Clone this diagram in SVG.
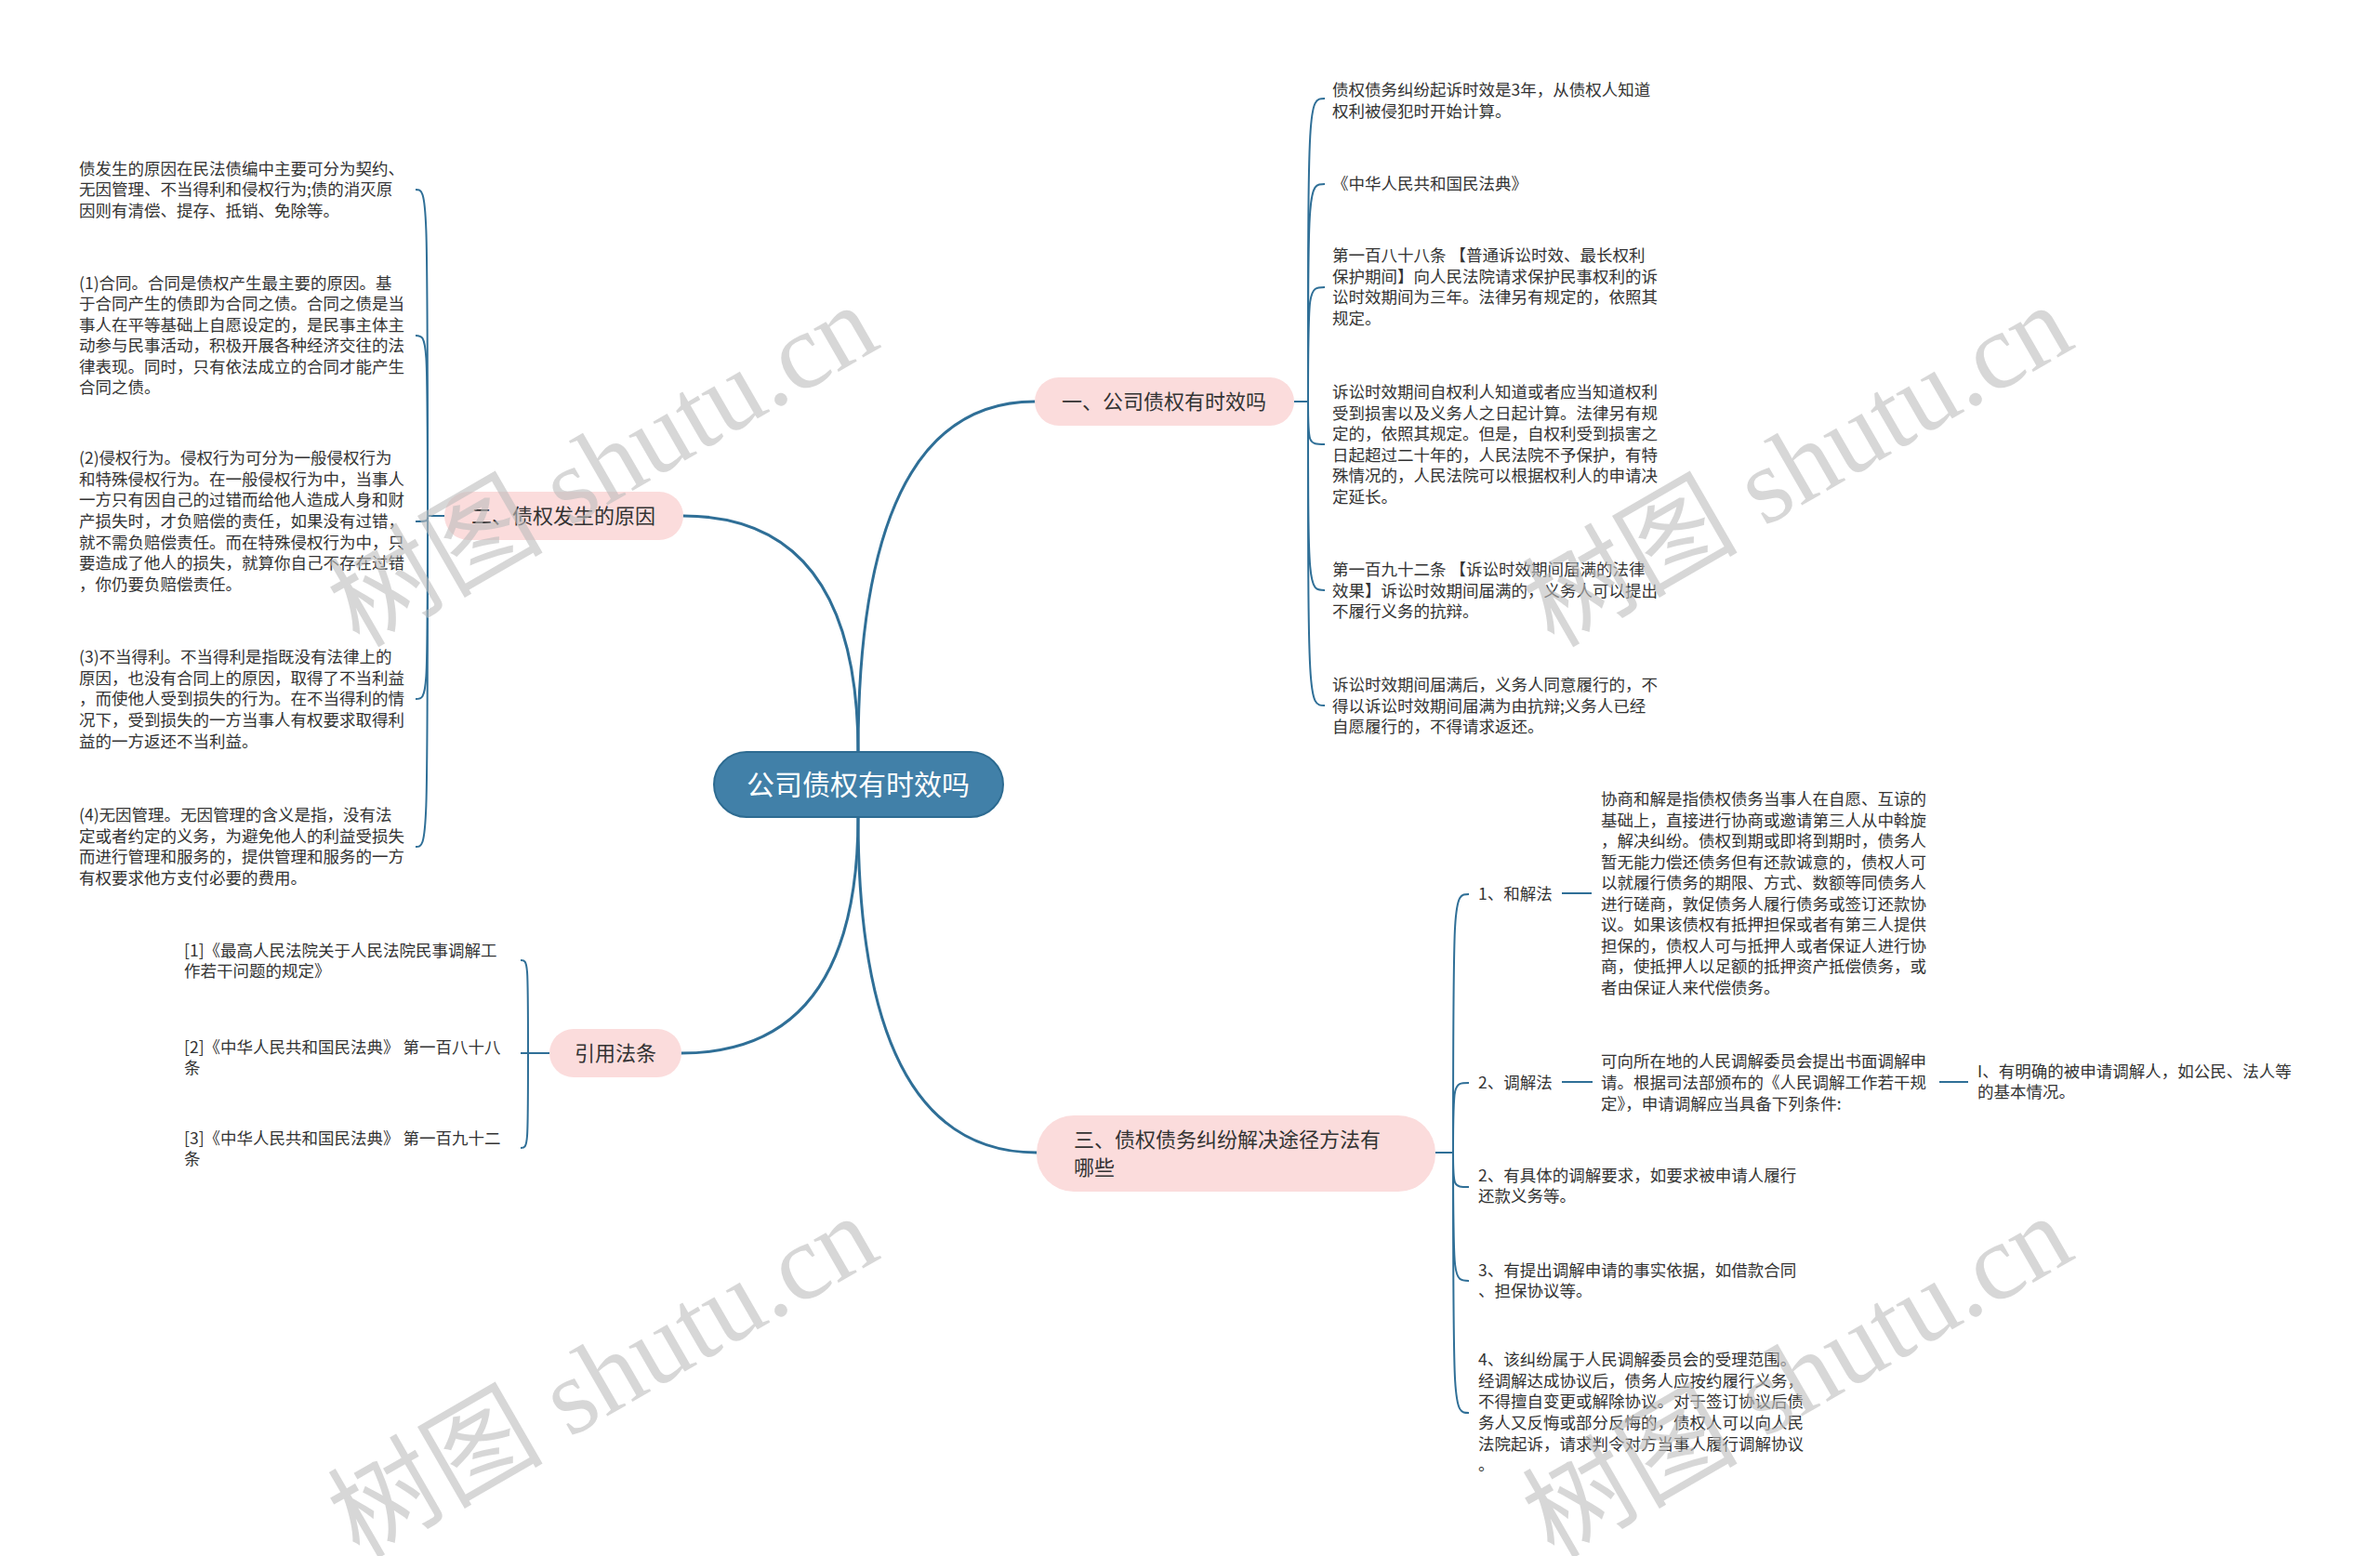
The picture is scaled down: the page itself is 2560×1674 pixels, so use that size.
<svg xmlns="http://www.w3.org/2000/svg" width="2560" height="1674" viewBox="0 0 2560 1674">
<style>
text{font-family:'Noto Sans CJK SC','Microsoft YaHei',sans-serif}
.leaf{font-size:17.5px;fill:#333}
.lbl{font-size:22px;fill:#333}
.pink{fill:#fbdcdc}
.main{fill:none;stroke:#2f6f97;stroke-width:3;stroke-linecap:round}
.br{fill:none;stroke:#2f6f97;stroke-width:2}
.wm{font-family:'Liberation Serif','Noto Sans CJK SC',serif;font-size:116px;fill:#bdbdbd;fill-opacity:0.6}
</style>
<rect x="0" y="0" width="2560" height="1674" fill="#ffffff"/>
<g id="connectors">
<path class="main" d="M923 809 Q923 432 1113 432"/>
<path class="main" d="M923 809 Q923 555 735 555"/>
<path class="main" d="M923 879 Q923 1133 733 1133"/>
<path class="main" d="M923 879 Q923 1240 1115 1240"/>
<path class="br" d="M478 555 H460"/>
<path class="br" d="M460 555 C460 204 460 204 447 204"/>
<path class="br" d="M460 555 C460 361 460 361 447 361"/>
<path class="br" d="M460 555 C460 561 460 561 447 561"/>
<path class="br" d="M460 555 C460 752 460 752 447 752"/>
<path class="br" d="M460 555 C460 911 460 911 447 911"/>
<path class="br" d="M1392 432 H1407"/>
<path class="br" d="M1407 432 C1407 106 1407 106 1425 106"/>
<path class="br" d="M1407 432 C1407 198 1407 198 1425 198"/>
<path class="br" d="M1407 432 C1407 309 1407 309 1425 309"/>
<path class="br" d="M1407 432 C1407 478 1407 478 1425 478"/>
<path class="br" d="M1407 432 C1407 635 1407 635 1425 635"/>
<path class="br" d="M1407 432 C1407 759 1407 759 1425 759"/>
<path class="br" d="M591 1133 H568"/>
<path class="br" d="M568 1133 C568 1033 568 1033 560 1033"/>
<path class="br" d="M568 1133 H560"/>
<path class="br" d="M568 1133 C568 1235 568 1235 560 1235"/>
<path class="br" d="M1543 1240 H1563"/>
<path class="br" d="M1563 1240 C1563 962 1563 962 1580 962"/>
<path class="br" d="M1563 1240 C1563 1165 1563 1165 1580 1165"/>
<path class="br" d="M1563 1240 C1563 1277 1563 1277 1580 1277"/>
<path class="br" d="M1563 1240 C1563 1378 1563 1378 1580 1378"/>
<path class="br" d="M1563 1240 C1563 1520 1563 1520 1580 1520"/>
<path class="br" d="M1680 961 H1712"/>
<path class="br" d="M1680 1164 H1713"/>
<path class="br" d="M2086 1164 H2117"/>
</g>
<g id="root">
<rect x="768" y="809" width="311" height="70" rx="35" fill="#4180a8" stroke="#2d6b91" stroke-width="2"/>
<text x="923" y="855" text-anchor="middle" font-size="30" fill="#ffffff">公司债权有时效吗</text>
</g>
<g id="n1">
<rect class="pink" x="1113" y="406" width="279" height="52" rx="26"/>
<text class="lbl" x="1252" y="440" text-anchor="middle">一、公司债权有时效吗</text>
</g>
<g id="n2">
<rect class="pink" x="478" y="529" width="257" height="52" rx="26"/>
<text class="lbl" x="606" y="563" text-anchor="middle">二、债权发生的原因</text>
</g>
<g id="n3">
<rect class="pink" x="591" y="1107" width="142" height="52" rx="26"/>
<text class="lbl" x="662" y="1141" text-anchor="middle">引用法条</text>
</g>
<g id="n4">
<rect class="pink" x="1115" y="1200" width="429" height="82" rx="40"/>
<text class="lbl"><tspan x="1155" y="1234">三、债权债务纠纷解决途径方法有</tspan><tspan x="1155" y="1264">哪些</tspan></text>
</g>
<g id="a1"><text class="leaf"><tspan x="85" y="188">债发生的原因在民法债编中主要可分为契约、</tspan><tspan x="85" y="210">无因管理、不当得利和侵权行为;债的消灭原</tspan><tspan x="85" y="233">因则有清偿、提存、抵销、免除等。</tspan></text></g>
<g id="a2"><text class="leaf"><tspan x="85" y="311">(1)合同。合同是债权产生最主要的原因。基</tspan><tspan x="85" y="333">于合同产生的债即为合同之债。合同之债是当</tspan><tspan x="85" y="356">事人在平等基础上自愿设定的，是民事主体主</tspan><tspan x="85" y="378">动参与民事活动，积极开展各种经济交往的法</tspan><tspan x="85" y="401">律表现。同时，只有依法成立的合同才能产生</tspan><tspan x="85" y="423">合同之债。</tspan></text></g>
<g id="a3"><text class="leaf"><tspan x="85" y="499">(2)侵权行为。侵权行为可分为一般侵权行为</tspan><tspan x="85" y="522">和特殊侵权行为。在一般侵权行为中，当事人</tspan><tspan x="85" y="544">一方只有因自己的过错而给他人造成人身和财</tspan><tspan x="85" y="567">产损失时，才负赔偿的责任，如果没有过错，</tspan><tspan x="85" y="590">就不需负赔偿责任。而在特殊侵权行为中，只</tspan><tspan x="85" y="612">要造成了他人的损失，就算你自己不存在过错</tspan><tspan x="85" y="635">，你仍要负赔偿责任。</tspan></text></g>
<g id="a4"><text class="leaf"><tspan x="85" y="713">(3)不当得利。不当得利是指既没有法律上的</tspan><tspan x="85" y="736">原因，也没有合同上的原因，取得了不当利益</tspan><tspan x="85" y="758">，而使他人受到损失的行为。在不当得利的情</tspan><tspan x="85" y="781">况下，受到损失的一方当事人有权要求取得利</tspan><tspan x="85" y="804">益的一方返还不当利益。</tspan></text></g>
<g id="a5"><text class="leaf"><tspan x="85" y="883">(4)无因管理。无因管理的含义是指，没有法</tspan><tspan x="85" y="906">定或者约定的义务，为避免他人的利益受损失</tspan><tspan x="85" y="928">而进行管理和服务的，提供管理和服务的一方</tspan><tspan x="85" y="951">有权要求他方支付必要的费用。</tspan></text></g>
<g id="b1"><text class="leaf"><tspan x="1433" y="103">债权债务纠纷起诉时效是3年，从债权人知道</tspan><tspan x="1433" y="126">权利被侵犯时开始计算。</tspan></text></g>
<g id="b2"><text class="leaf"><tspan x="1433" y="204">《中华人民共和国民法典》</tspan></text></g>
<g id="b3"><text class="leaf"><tspan x="1433" y="281">第一百八十八条 【普通诉讼时效、最长权利</tspan><tspan x="1433" y="304">保护期间】向人民法院请求保护民事权利的诉</tspan><tspan x="1433" y="326">讼时效期间为三年。法律另有规定的，依照其</tspan><tspan x="1433" y="349">规定。</tspan></text></g>
<g id="b4"><text class="leaf"><tspan x="1433" y="428">诉讼时效期间自权利人知道或者应当知道权利</tspan><tspan x="1433" y="451">受到损害以及义务人之日起计算。法律另有规</tspan><tspan x="1433" y="473">定的，依照其规定。但是，自权利受到损害之</tspan><tspan x="1433" y="496">日起超过二十年的，人民法院不予保护，有特</tspan><tspan x="1433" y="518">殊情况的，人民法院可以根据权利人的申请决</tspan><tspan x="1433" y="541">定延长。</tspan></text></g>
<g id="b5"><text class="leaf"><tspan x="1433" y="619">第一百九十二条 【诉讼时效期间届满的法律</tspan><tspan x="1433" y="642">效果】诉讼时效期间届满的，义务人可以提出</tspan><tspan x="1433" y="664">不履行义务的抗辩。</tspan></text></g>
<g id="b6"><text class="leaf"><tspan x="1433" y="743">诉讼时效期间届满后，义务人同意履行的，不</tspan><tspan x="1433" y="766">得以诉讼时效期间届满为由抗辩;义务人已经</tspan><tspan x="1433" y="788">自愿履行的，不得请求返还。</tspan></text></g>
<g id="c1"><text class="leaf"><tspan x="198" y="1029">[1]《最高人民法院关于人民法院民事调解工</tspan><tspan x="198" y="1051">作若干问题的规定》</tspan></text></g>
<g id="c2"><text class="leaf"><tspan x="198" y="1133">[2]《中华人民共和国民法典》 第一百八十八</tspan><tspan x="198" y="1155">条</tspan></text></g>
<g id="c3"><text class="leaf"><tspan x="198" y="1231">[3]《中华人民共和国民法典》 第一百九十二</tspan><tspan x="198" y="1253">条</tspan></text></g>
<g id="d1"><text class="leaf" x="1590" y="968">1、和解法</text></g>
<g id="d1t"><text class="leaf"><tspan x="1722" y="866">协商和解是指债权债务当事人在自愿、互谅的</tspan><tspan x="1722" y="889">基础上，直接进行协商或邀请第三人从中斡旋</tspan><tspan x="1722" y="911">，解决纠纷。债权到期或即将到期时，债务人</tspan><tspan x="1722" y="934">暂无能力偿还债务但有还款诚意的，债权人可</tspan><tspan x="1722" y="956">以就履行债务的期限、方式、数额等同债务人</tspan><tspan x="1722" y="979">进行磋商，敦促债务人履行债务或签订还款协</tspan><tspan x="1722" y="1001">议。如果该债权有抵押担保或者有第三人提供</tspan><tspan x="1722" y="1024">担保的，债权人可与抵押人或者保证人进行协</tspan><tspan x="1722" y="1046">商，使抵押人以足额的抵押资产抵偿债务，或</tspan><tspan x="1722" y="1069">者由保证人来代偿债务。</tspan></text></g>
<g id="d2"><text class="leaf" x="1590" y="1171">2、调解法</text></g>
<g id="d2t"><text class="leaf"><tspan x="1722" y="1148">可向所在地的人民调解委员会提出书面调解申</tspan><tspan x="1722" y="1171">请。根据司法部颁布的《人民调解工作若干规</tspan><tspan x="1722" y="1194">定》，申请调解应当具备下列条件:</tspan></text></g>
<g id="d2c"><text class="leaf"><tspan x="2127" y="1159">I、有明确的被申请调解人，如公民、法人等</tspan><tspan x="2127" y="1181">的基本情况。</tspan></text></g>
<g id="d3"><text class="leaf"><tspan x="1590" y="1271">2、有具体的调解要求，如要求被申请人履行</tspan><tspan x="1590" y="1293">还款义务等。</tspan></text></g>
<g id="d4"><text class="leaf"><tspan x="1590" y="1373">3、有提出调解申请的事实依据，如借款合同</tspan><tspan x="1590" y="1395">、担保协议等。</tspan></text></g>
<g id="d5"><text class="leaf"><tspan x="1590" y="1469">4、该纠纷属于人民调解委员会的受理范围。</tspan><tspan x="1590" y="1492">经调解达成协议后，债务人应按约履行义务，</tspan><tspan x="1590" y="1514">不得擅自变更或解除协议。对于签订协议后债</tspan><tspan x="1590" y="1537">务人又反悔或部分反悔的，债权人可以向人民</tspan><tspan x="1590" y="1560">法院起诉，请求判令对方当事人履行调解协议</tspan><tspan x="1590" y="1582">。</tspan></text></g>
<g id="watermarks">
<text class="wm" text-anchor="middle" transform="translate(668 535) rotate(-30)">树图 shutu.cn</text>
<text class="wm" text-anchor="middle" transform="translate(1953 535) rotate(-30)">树图 shutu.cn</text>
<text class="wm" text-anchor="middle" transform="translate(668 1515) rotate(-30)">树图 shutu.cn</text>
<text class="wm" text-anchor="middle" transform="translate(1953 1515) rotate(-30)">树图 shutu.cn</text>
</g>
</svg>
